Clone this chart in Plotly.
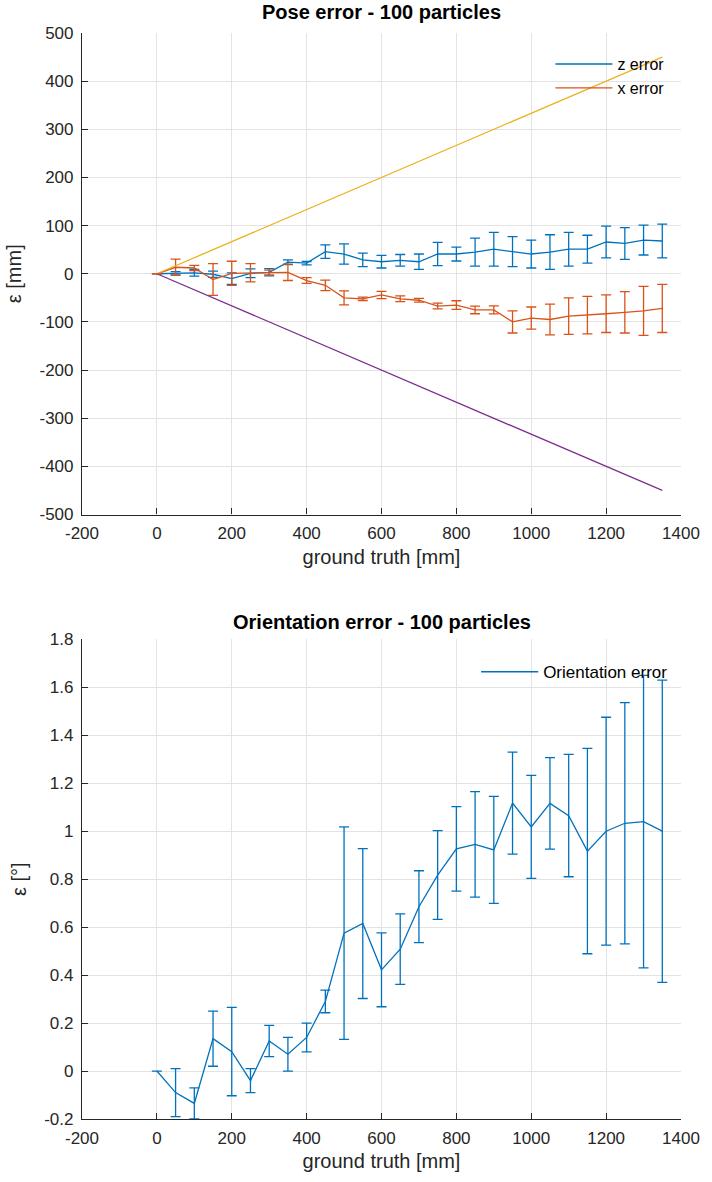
import plotly.graph_objects as go

# ---------------- data ----------------
gt_mm = [0, 50, 100, 150, 200, 250, 300, 350, 400, 450, 500, 550, 600, 650,
         700, 750, 800, 850, 900, 950, 1000, 1050, 1100, 1150, 1200, 1250, 1300, 1350]

z_err_mean = [0, 1, 2, -1, -10, 1, 3, 24, 22, 46, 41, 29, 25, 28,
              25, 41, 41, 45, 51, 46, 41, 45, 51, 51, 66, 63, 70, 68]
z_err_std = [0, 3.5, 7, 6.5, 12, 9, 7.5, 5, 3.5, 14, 21, 14, 13, 12,
             16, 24, 14.5, 29, 35, 31, 29, 36, 35, 29, 33, 33, 31, 35]

x_err_mean = [0, 13.5, 12, -12, 1, 2, 2.5, 3, -14, -24, -50, -52, -44, -52,
              -55, -67, -65, -75, -75, -100, -92, -95, -88, -86, -83, -80, -77, -72]
x_err_std = [0, 17, 5.5, 33, 25, 19, 5, 17, 6, 11, 14.5, 3.5, 7.5, 6,
             4, 6, 9, 8, 8.5, 23, 23, 32, 38, 39, 39, 43, 51, 50]

bound_x = [0, 1350]
bound_upper = [0, 450]
bound_lower = [0, -450]

orient_mean = [0, -0.09, -0.135, 0.135, 0.081, -0.04, 0.125, 0.07, 0.14, 0.29,
               0.575, 0.615, 0.422, 0.508, 0.685, 0.817, 0.926, 0.945, 0.922, 1.117,
               1.018, 1.116, 1.065, 0.917, 1.0, 1.033, 1.04, 1.0]
orient_std = [0, 0.1, 0.065, 0.115, 0.184, 0.05, 0.065, 0.07, 0.06, 0.047,
              0.443, 0.3125, 0.154, 0.147, 0.15, 0.185, 0.176, 0.22, 0.223, 0.213,
              0.215, 0.191, 0.255, 0.428, 0.475, 0.503, 0.61, 0.63]

x_ticks = [-200, 0, 200, 400, 600, 800, 1000, 1200, 1400]
x_ticktext = ["-200", "0", "200", "400", "600", "800", "1000", "1200", "1400"]
y1_ticks = [-500, -400, -300, -200, -100, 0, 100, 200, 300, 400, 500]
y1_ticktext = ["-500", "-400", "-300", "-200", "-100", "0", "100", "200", "300", "400", "500"]
y2_ticks = [-0.2, 0, 0.2, 0.4, 0.6, 0.8, 1.0, 1.2, 1.4, 1.6, 1.8]
y2_ticktext = ["-0.2", "0", "0.2", "0.4", "0.6", "0.8", "1", "1.2", "1.4", "1.6", "1.8"]

# ---------------- style ----------------
BLUE = "#0072BD"
ORANGE = "#D95319"
YELLOW = "#EDB120"
PURPLE = "#7E2F8E"
AXC = "#262626"
GRID = "#e3e3e3"
FONT = "Liberation Sans, Arial, sans-serif"
LW = 1.3

fig = go.Figure()

fig.add_trace(go.Scatter(
    x=gt_mm, y=z_err_mean, mode="lines", name="z error",
    line=dict(color=BLUE, width=LW),
    error_y=dict(type="data", array=z_err_std, visible=True, width=5,
                 thickness=LW, color=BLUE),
    xaxis="x", yaxis="y", legend="legend"))
fig.add_trace(go.Scatter(
    x=gt_mm, y=x_err_mean, mode="lines", name="x error",
    line=dict(color=ORANGE, width=LW),
    error_y=dict(type="data", array=x_err_std, visible=True, width=5,
                 thickness=LW, color=ORANGE),
    xaxis="x", yaxis="y", legend="legend"))
fig.add_trace(go.Scatter(
    x=bound_x, y=bound_upper, mode="lines", showlegend=False,
    line=dict(color=YELLOW, width=LW), xaxis="x", yaxis="y"))
fig.add_trace(go.Scatter(
    x=bound_x, y=bound_lower, mode="lines", showlegend=False,
    line=dict(color=PURPLE, width=LW), xaxis="x", yaxis="y"))

fig.add_trace(go.Scatter(
    x=gt_mm, y=orient_mean, mode="lines", name="Orientation error",
    line=dict(color=BLUE, width=LW),
    error_y=dict(type="data", array=orient_std, visible=True, width=5,
                 thickness=LW, color=BLUE),
    xaxis="x2", yaxis="y2", legend="legend2"))

axis_common = dict(
    showgrid=True, gridcolor=GRID, gridwidth=1,
    showline=True, linecolor=AXC, linewidth=1.2,
    ticks="inside", ticklen=6, tickcolor=AXC, tickwidth=1.2,
    zeroline=False, mirror=False,
    tickfont=dict(family=FONT, size=17, color=AXC),
)
TITLE_FONT = dict(family=FONT, size=20, color=AXC)

fig.update_layout(
    width=712, height=1182,
    margin=dict(l=82, r=22, t=33, b=63),
    paper_bgcolor="white", plot_bgcolor="white",
    font=dict(family=FONT, color=AXC),
    xaxis=dict(domain=[0, 1], anchor="y", range=[-200, 1400],
               tickvals=x_ticks, ticktext=x_ticktext, ticklabelstandoff=3,
               title=dict(text="ground truth [mm]", font=TITLE_FONT, standoff=7),
               **axis_common),
    yaxis=dict(domain=[0.5566, 1.0], anchor="x", range=[-500, 500],
               tickvals=y1_ticks, ticktext=y1_ticktext, ticklabelstandoff=4,
               title=dict(text="ε [mm]", font=TITLE_FONT, standoff=12),
               **axis_common),
    xaxis2=dict(domain=[0, 1], anchor="y2", range=[-200, 1400],
                tickvals=x_ticks, ticktext=x_ticktext, ticklabelstandoff=3,
                title=dict(text="ground truth [mm]", font=TITLE_FONT, standoff=7),
                **axis_common),
    yaxis2=dict(domain=[0, 0.4417], anchor="x2", range=[-0.2, 1.8],
                tickvals=y2_ticks, ticktext=y2_ticktext, ticklabelstandoff=4,
                title=dict(text="ε [°]", font=TITLE_FONT, standoff=12),
                **axis_common),
    legend=dict(x=0.782, y=0.987, xanchor="left", yanchor="top",
                bgcolor="rgba(0,0,0,0)", borderwidth=0, itemwidth=57,
                font=dict(family=FONT, size=16, color="black"), tracegroupgap=0),
    legend2=dict(x=0.658, y=0.428, xanchor="left", yanchor="top",
                 bgcolor="rgba(0,0,0,0)", borderwidth=0, itemwidth=57,
                 font=dict(family=FONT, size=17, color="black")),
    annotations=[
        dict(text="<b>Pose error - 100 particles</b>", x=0.5, y=1.019,
             xref="paper", yref="paper", showarrow=False, xanchor="center", yanchor="middle",
             font=dict(family=FONT, size=20, color="black")),
        dict(text="<b>Orientation error - 100 particles</b>", x=0.5, y=0.4576,
             xref="paper", yref="paper", showarrow=False, xanchor="center", yanchor="middle",
             font=dict(family=FONT, size=20, color="black")),
    ],
)

fig.write_html("out.html")
